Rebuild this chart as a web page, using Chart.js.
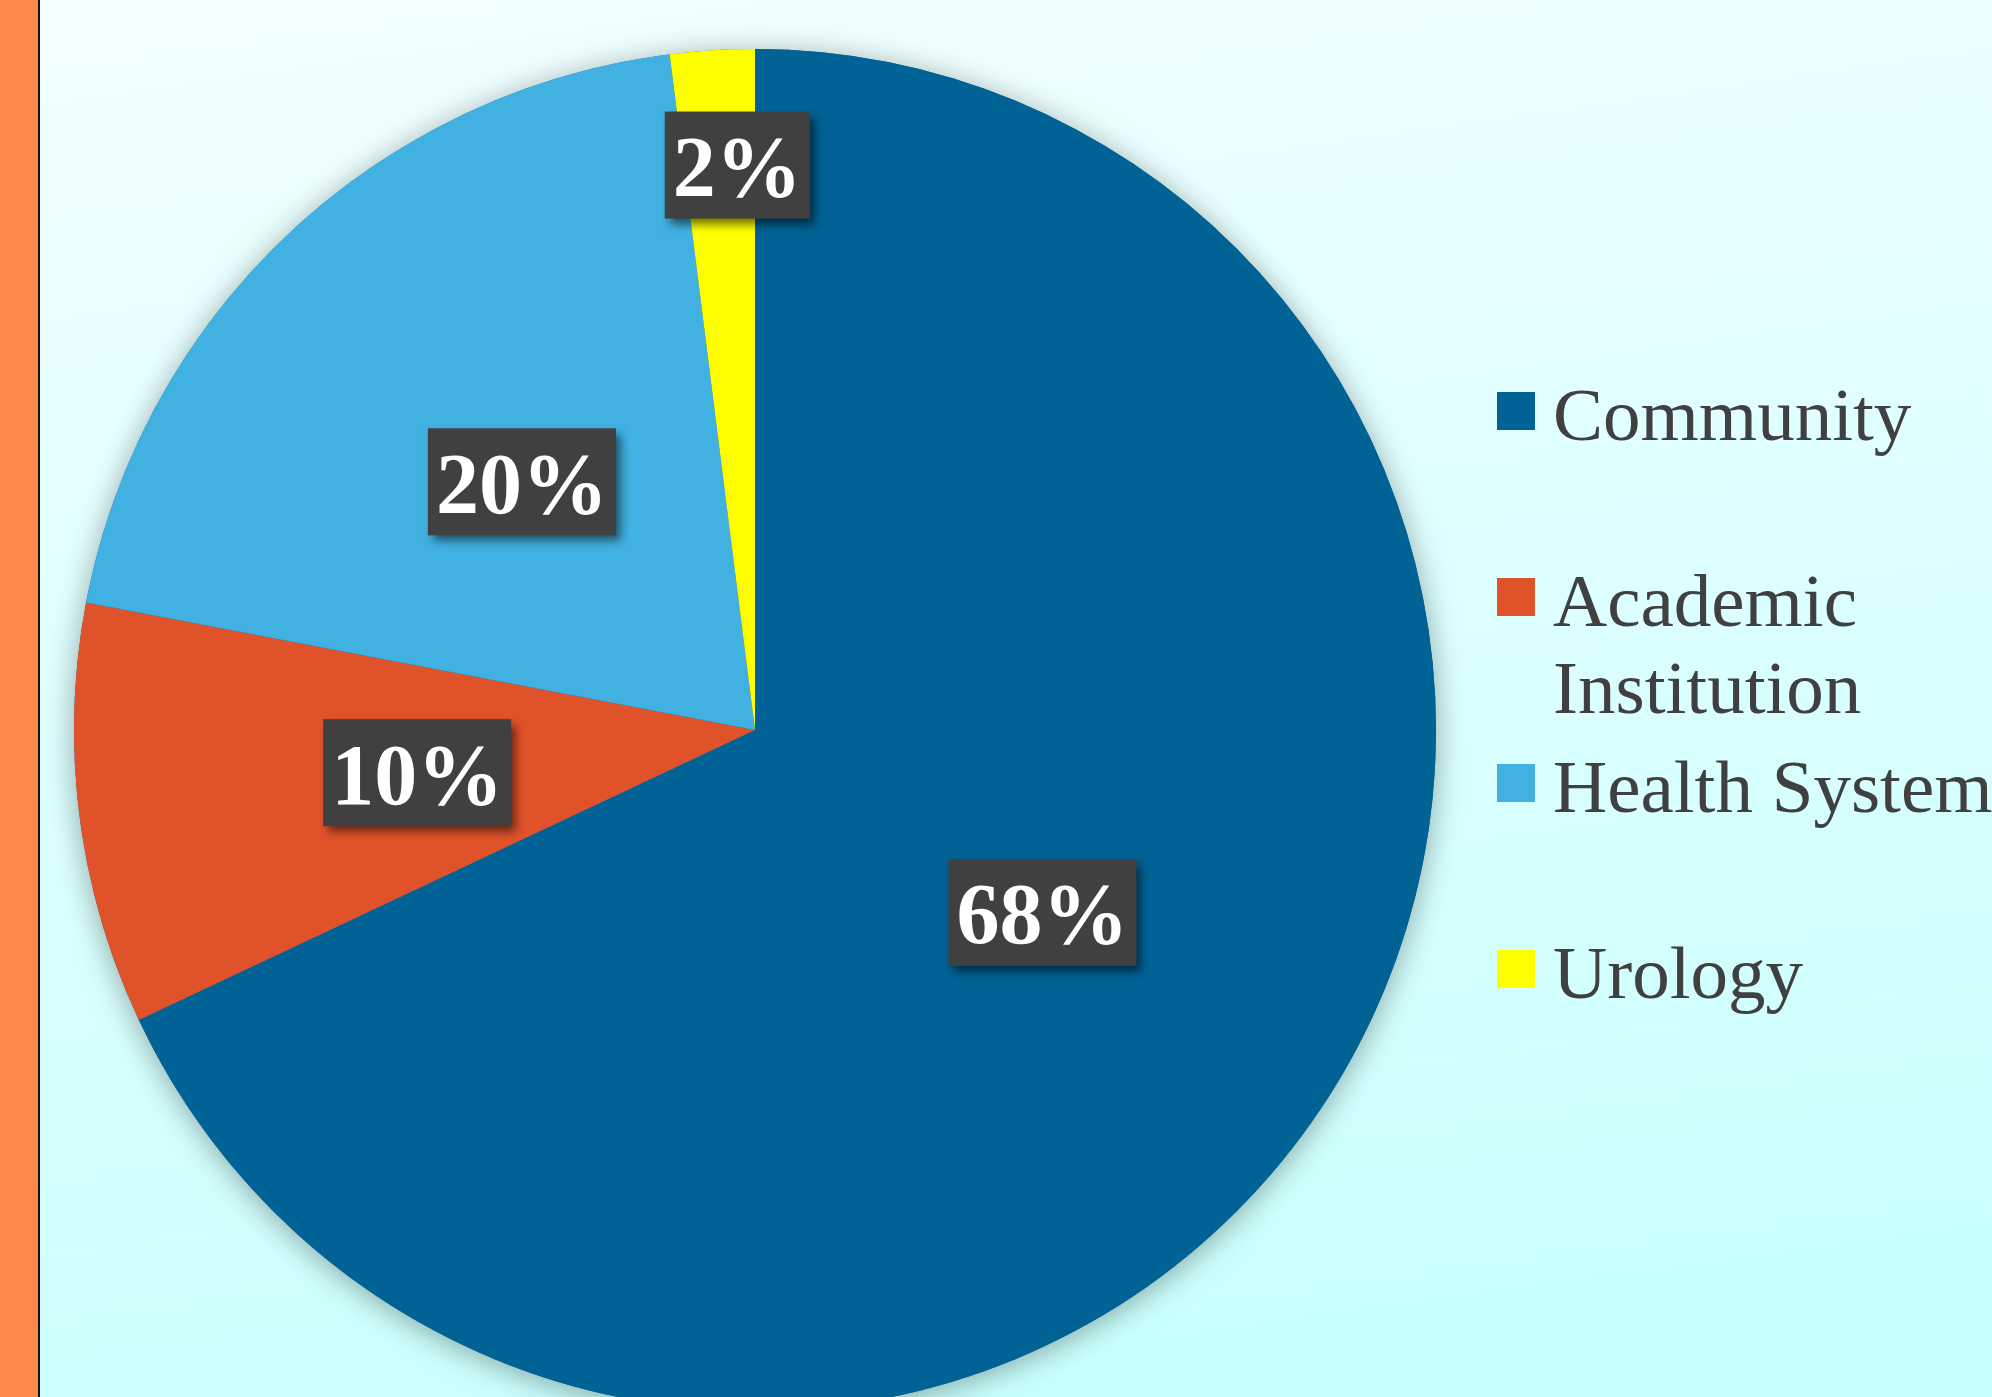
<!DOCTYPE html>
<html>
<head>
<meta charset="utf-8">
<script src="https://cdn.jsdelivr.net/npm/chart.js@4.4.1/dist/chart.umd.min.js"></script>
<style>
    html, body {
        margin: 0;
        padding: 0;
        width: 1992px;
        height: 1397px;
        overflow: hidden;
    }
    body {
        position: relative;
        background: linear-gradient(172deg, #f3ffff 0%, #dcffff 50%, #c4fffd 100%);
    }
    #strip {
        position: absolute;
        left: 0; top: 0;
        width: 38px; height: 1397px;
        background: #ff884d;
        border-right: 2px solid #111;
    }
    #chart {
        position: absolute;
        left: 0; top: 0;
    }
    #legend {
        position: absolute;
        left: 1497px;
        top: 371px;
        width: 560px;
        font-family: "Liberation Serif", "Times New Roman", serif;
        font-size: 75px;
        line-height: 87px;
        color: #404040;
    }
    .item {
        position: relative;
        height: 186px;
        padding-left: 56px;
    }
    .box {
        position: absolute;
        left: 0;
        top: 21px;
        width: 38px;
        height: 38px;
    }
</style>
</head>
<body>
<div id="strip"></div>
<canvas id="chart" width="1992" height="1420"></canvas>
<div id="legend"></div>

<script>
// Share of respondents by practice setting (%)
const categories = ['Community', 'Academic Institution', 'Health System', 'Urology'];
const shares = [68, 10, 20, 2];
const sliceColors = ['#016295', '#e0532a', '#41b1e1', '#ffff00'];

const serif = '"Liberation Serif", "Times New Roman", serif';

// soft shadow under the whole pie
const pieShadow = {
    id: 'pieShadow',
    beforeDatasetsDraw(chart) {
        const arc = chart.getDatasetMeta(0).data[0];
        if (!arc) return;
        const { x, y, outerRadius } = arc.getProps(['x', 'y', 'outerRadius'], true);
        const ctx = chart.ctx;
        ctx.save();
        ctx.shadowColor = 'rgba(0, 0, 0, 0.35)';
        ctx.shadowBlur = 30;
        ctx.shadowOffsetY = 4;
        ctx.fillStyle = '#016295';
        ctx.beginPath();
        ctx.arc(x, y, outerRadius, 0, Math.PI * 2);
        ctx.fill();
        ctx.restore();
    }
};

// dark boxed percentage labels
const boxLabels = {
    id: 'boxLabels',
    afterDatasetsDraw(chart) {
        const ctx = chart.ctx;
        const data = chart.data.datasets[0].data;
        const total = data.reduce((a, b) => a + b, 0);
        ctx.save();
        ctx.font = 'bold 86px ' + serif;
        chart.getDatasetMeta(0).data.forEach((arc, i) => {
            const p = arc.getProps(['x', 'y', 'startAngle', 'endAngle', 'outerRadius'], true);
            const thin = data[i] / total < 0.05;
            // thin slices: label pushed out towards the rim, near the closing edge
            const ang = thin
                ? p.endAngle - (p.endAngle - p.startAngle) * 0.25
                : (p.startAngle + p.endAngle) / 2;
            const f = thin ? 0.83 : 0.5;
            const cx = p.x + Math.cos(ang) * p.outerRadius * f;
            const cy = p.y + Math.sin(ang) * p.outerRadius * f;
            const text = data[i] + '%';
            const w = ctx.measureText(text).width + 16;
            const h = 107;

            ctx.save();
            ctx.shadowColor = 'rgba(0, 0, 0, 0.55)';
            ctx.shadowBlur = 9;
            ctx.shadowOffsetX = 5;
            ctx.shadowOffsetY = 6;
            ctx.fillStyle = '#404040';
            ctx.fillRect(cx - w / 2, cy - h / 2, w, h);
            ctx.restore();

            ctx.fillStyle = '#ffffff';
            ctx.textAlign = 'center';
            ctx.textBaseline = 'alphabetic';
            ctx.fillText(text, cx, cy + 31);
        });
        ctx.restore();
    }
};

const chart = new Chart(document.getElementById('chart'), {
    type: 'pie',
    data: {
        labels: categories,
        datasets: [{
            data: shares,
            backgroundColor: sliceColors,
            borderWidth: 0
        }]
    },
    options: {
        responsive: false,
        animation: false,
        layout: {
            padding: { left: 74, right: 556, top: 49, bottom: 9 }
        },
        plugins: {
            legend: { display: false },
            tooltip: { enabled: false }
        }
    },
    plugins: [pieShadow, boxLabels]
});

// legend built from the same arrays
const legend = document.getElementById('legend');
categories.forEach((name, i) => {
    const item = document.createElement('div');
    item.className = 'item';
    const box = document.createElement('span');
    box.className = 'box';
    box.style.background = sliceColors[i];
    item.appendChild(box);
    item.appendChild(document.createTextNode(name));
    legend.appendChild(item);
});
</script>
</body>
</html>
